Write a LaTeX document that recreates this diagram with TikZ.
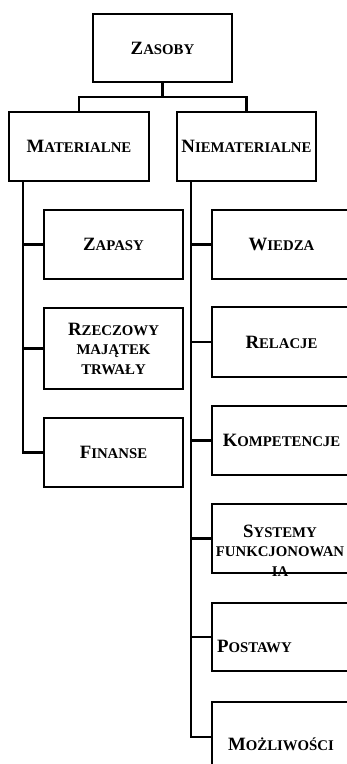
\documentclass[tikz,border=0pt]{standalone}
\usepackage{fontspec}
\setmainfont{Liberation Serif}
% small-caps look: first letter at full size, the rest in smaller capitals
\newcommand\initcap[1]{{\fontsize{18.8}{19.5}\selectfont #1}}
\begin{document}
\begin{tikzpicture}[x=1pt,y=-1pt,
  box/.style={draw, line width=2.5pt, minimum width=139pt, minimum height=69pt,
    inner sep=0pt, align=center, font=\bfseries\fontsize{14.8}{19.5}\selectfont},
  lbl/.style={inner sep=0pt, font=\bfseries\fontsize{14.8}{19.5}\selectfont},
  wire/.style={line width=2.5pt}]
\path[use as bounding box] (0,0) rectangle (347,764);
\clip (0,0) rectangle (347,764);

% top level
\node[box, minimum height=68pt] (zasoby) at (162.5,48) {\initcap{Z}ASOBY};
\node[box, minimum width=140pt] (mat) at (79,146.5) {\initcap{M}ATERIALNE};
\node[box] (niemat) at (246.5,146.5) {\initcap{N}IEMATERIALNE};

% material resources
\node[box] (zapasy) at (113.5,244.5) {\initcap{Z}APASY};
\node[box, minimum height=81pt] (rzecz) at (113.5,348.5)
  {\initcap{R}ZECZOWY\\MAJĄTEK\\TRWAŁY};
\node[box] (finanse) at (113.5,452.5) {\initcap{F}INANSE};

% intangible resources
\node[box] (wiedza) at (281.5,244.5) {\initcap{W}IEDZA};
\node[box, minimum height=70pt] (relacje) at (281.5,342) {\initcap{R}ELACJE};
\node[box] (kompet) at (281.5,440.5) {\initcap{K}OMPETENCJE};

\node[lbl, anchor=base] (sys1) at (280,537) {\initcap{S}YSTEMY};
\node[lbl, anchor=base] (sys2) at (280,556) {FUNKCJONOWAN};
\node[lbl, anchor=base] (sys3) at (280,576) {IA};
\node[box] (systemy) at (281.5,538.5) {};

\node[box, minimum height=68pt] (postawy) at (281.5,637) {};
\node[lbl, anchor=base west] (postawyt) at (217,652) {\initcap{P}OSTAWY};

\node[box, minimum height=70pt] (mozl) at (281.5,737) {};
\node[lbl, anchor=base] (mozlt) at (281,750) {\initcap{M}OŻLIWOŚCI};

% connectors
\coordinate (bus) at (0,97);
\draw[wire] (zasoby.south) -- (zasoby.south |- bus);
\draw[wire] (mat.north) |- (niemat.north |- bus) -- (niemat.north);

\coordinate (lt) at ([xshift=15pt]mat.south west);
\draw[wire] (lt) |- (finanse.west);
\draw[wire] (lt |- zapasy.west) -- (zapasy.west);
\draw[wire] (lt |- rzecz.west) -- (rzecz.west);

\coordinate (rt) at ([xshift=15pt]niemat.south west);
\draw[wire] (rt) |- (mozl.west);
\draw[wire] (rt |- wiedza.west) -- (wiedza.west);
\draw[wire] (rt |- relacje.west) -- (relacje.west);
\draw[wire] (rt |- kompet.west) -- (kompet.west);
\draw[wire] (rt |- systemy.west) -- (systemy.west);
\draw[wire] (rt |- postawy.west) -- (postawy.west);
\end{tikzpicture}
\end{document}
